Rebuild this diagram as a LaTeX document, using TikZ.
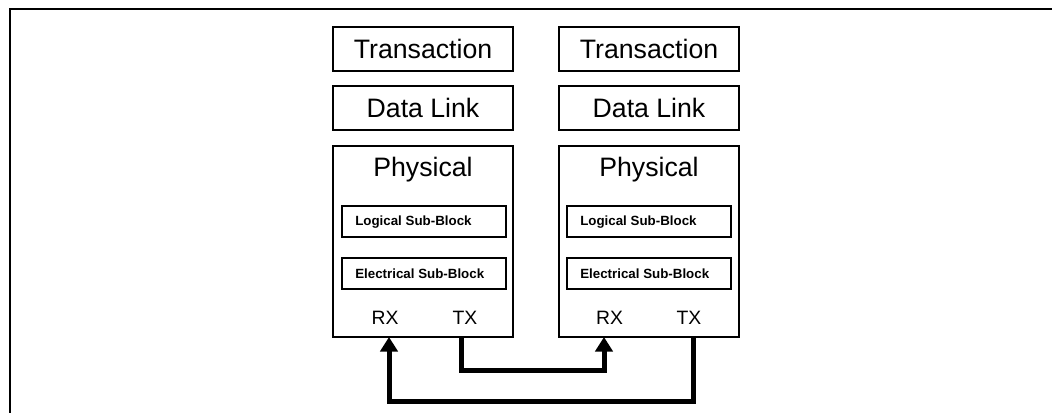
\documentclass[tikz,border=0pt]{standalone}
\usepackage{fontspec}
\setmainfont{Liberation Sans}
\usetikzlibrary{arrows.meta}
\begin{document}
\begin{tikzpicture}[x=0.75pt,y=-0.75pt,
  box/.style={draw, line width=1.1pt, inner sep=0pt, outer sep=0pt},
  layer/.style={box, minimum width=135pt, minimum height=33pt, font=\fontsize{20}{24}\selectfont},
  phys/.style={box, minimum width=135pt, minimum height=143.25pt},
  sub/.style={box, minimum width=123pt, minimum height=23.25pt},
  subtext/.style={anchor=west, inner sep=0pt, font=\fontsize{10}{12}\selectfont\bfseries},
  big/.style={anchor=base, inner sep=0pt, font=\fontsize{20}{24}\selectfont},
  port/.style={anchor=base, inner sep=0pt, font=\fontsize{14.5}{17}\selectfont},
  link/.style={line width=3.75pt, -{Triangle[width=13pt,length=11pt]}},
  frame/.style={line width=1.5pt}]
\useasboundingbox (0,0) rectangle (1052,413);
\draw[frame] (10,413) -- (10,9) -- (1052,9);

% left stack
\node[layer] (ltrans) at (423,49) {Transaction};
\node[layer] (ldl) at (423,108) {Data Link};
\node[phys] (lphys) at (423,241.5) {};
\node[big] (lphyst) at (423,177) {Physical};
\node[sub] (llog) at (424,221.5) {};
\node[subtext] (llogt) at (355,222) {Logical Sub-Block};
\node[sub] (lele) at (424,273.5) {};
\node[subtext] (lelet) at (355,274) {Electrical Sub-Block};
\node[port] (lrx) at (385,324) {RX};
\node[port] (ltx) at (465,324) {TX};

% right stack
\node[layer] (rtrans) at (649,49) {Transaction};
\node[layer] (rdl) at (649,108) {Data Link};
\node[phys] (rphys) at (649,241.5) {};
\node[big] (rphyst) at (649,177) {Physical};
\node[sub] (rlog) at (649,221.5) {};
\node[subtext] (rlogt) at (580,222) {Logical Sub-Block};
\node[sub] (rele) at (649,273.5) {};
\node[subtext] (relet) at (580,274) {Electrical Sub-Block};
\node[port] (rrx) at (609.5,324) {RX};
\node[port] (rtx) at (689,324) {TX};

% links
\coordinate (a1) at (461,370);
\coordinate (a2) at (604,370);
\coordinate (b1) at (693,401);
\coordinate (b2) at (389,401);
\draw[link] (lphys.south -| a1) -- (a1) -- (a2) -- (rphys.south -| a2);
\draw[link] (rphys.south -| b1) -- (b1) -- (b2) -- (lphys.south -| b2);
\end{tikzpicture}
\end{document}
